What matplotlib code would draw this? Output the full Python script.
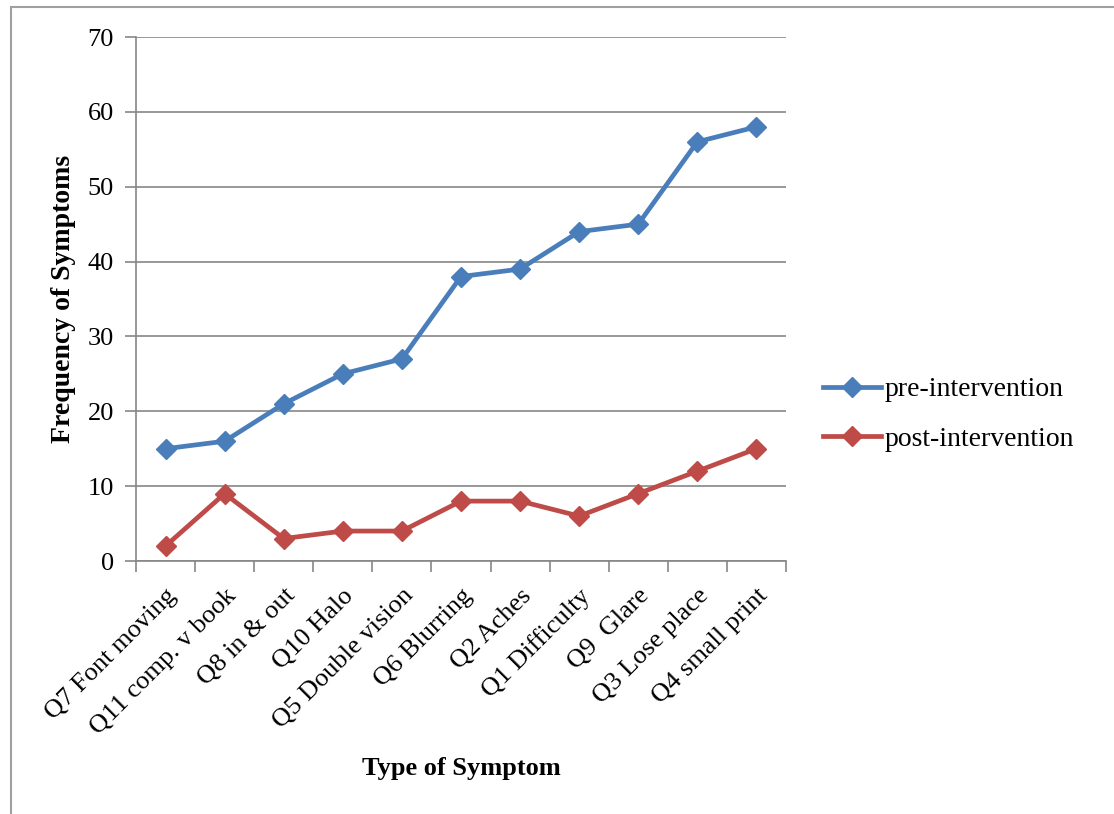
import matplotlib
matplotlib.use("Agg")
import matplotlib.pyplot as plt
from matplotlib.patches import Rectangle

categories = ["Q7 Font moving", "Q11 comp. v book", "Q8 in & out", "Q10 Halo",
              "Q5 Double vision", "Q6 Blurring", "Q2 Aches", "Q1 Difficulty",
              "Q9  Glare", "Q3 Lose place", "Q4 small print"]
pre = [15, 16, 21, 25, 27, 38, 39, 44, 45, 56, 58]
post = [2, 9, 3, 4, 4, 8, 8, 6, 9, 12, 15]
yticks = [0, 10, 20, 30, 40, 50, 60, 70]

plt.rcParams['font.family'] = ['Liberation Serif', 'DejaVu Serif']

W, H = 1114, 814
fig = plt.figure(figsize=(W / 100, H / 100), dpi=100)
fig.patches.append(Rectangle((11 / W, -0.01), 1.02, 1 - 7 / H + 0.01,
                             transform=fig.transFigure, fill=False,
                             edgecolor='#a0a0a0', linewidth=1.5))

ax = fig.add_axes([136 / W, 1 - 561 / H, (786 - 136) / W, (561 - 37) / H])
grey = '#868686'
n = len(categories)
x = list(range(n))
ax.plot(x, pre, color='#4A7EBB', lw=3.4, marker='D', markersize=10.5,
        label='pre-intervention', zorder=3)
ax.plot(x, post, color='#BE4B48', lw=3.4, marker='D', markersize=10.5,
        label='post-intervention', zorder=3)

ax.set_xlim(-0.5, n - 0.5)
ax.set_ylim(0, 70)
ax.set_yticks(yticks)
ax.set_yticklabels([str(v) for v in yticks])
ax.yaxis.grid(True, color=grey, lw=1.2)
ax.set_axisbelow(True)
for s in ['top', 'right']:
    ax.spines[s].set_visible(False)
for s in ['left', 'bottom']:
    ax.spines[s].set_color(grey)
    ax.spines[s].set_linewidth(1.2)

ax.set_xticks([i - 0.5 for i in range(n + 1)])
ax.set_xticklabels([])
ax.set_xticks(x, minor=True)
ax.set_xticklabels(categories, minor=True, rotation=45, ha='right',
                   rotation_mode='anchor', fontsize=19)
ax.tick_params(axis='x', which='minor', length=0, pad=17)
ax.tick_params(axis='x', which='major', length=8, color=grey, width=1.2)
ax.tick_params(axis='y', length=8, color=grey, width=1.2, labelsize=19, pad=8)

ax.set_ylabel('Frequency of Symptoms', fontsize=20, fontweight='bold', labelpad=8)
fig.text(461 / W, 1 - 768 / H, 'Type of Symptom', fontsize=19,
         fontweight='bold', ha='center', va='center')

leg = ax.legend(loc='center left', bbox_to_anchor=(1.04, 0.28),
                frameon=False, fontsize=20, handlelength=2.1,
                handletextpad=0.1, labelspacing=0.85, borderaxespad=0)

fig.savefig('out.png', dpi=100)
